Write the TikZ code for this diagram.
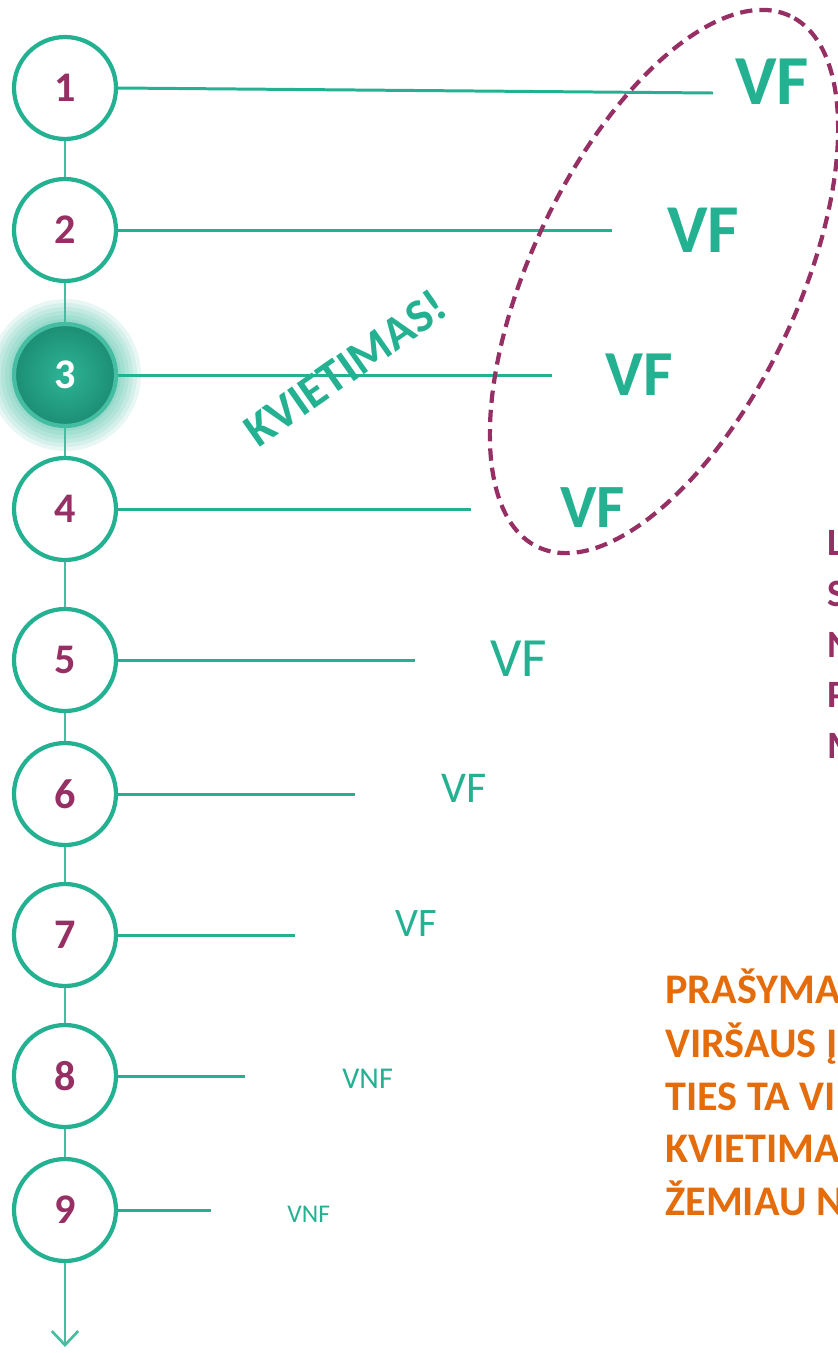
\documentclass[tikz,border=0pt]{standalone}
\usepackage{fontspec}
\setmainfont{Carlito}
\usepackage{xcolor}
\usetikzlibrary{arrows.meta}

\definecolor{vfteal}{RGB}{35,177,145}
\definecolor{vfpurple}{RGB}{150,48,100}
\definecolor{vforange}{RGB}{228,108,10}

\begin{document}
\begin{tikzpicture}[x=0.02cm, y=-0.02cm,
	stepcirc/.style={circle, draw=vfteal, line width=2.4pt, fill=white, minimum size=2.04cm, inner sep=0pt, text=vfpurple, font=\bfseries\fontsize{24}{28}\selectfont},
	stepnow/.style={draw=vfteal!85!white, shade, inner color=vfteal!95!white, outer color=vfteal!80!black, text=white},
	glowring/.style={fill=vfteal, opacity=0.1},
	hline/.style={vfteal, line width=1.7pt},
	vline/.style={vfteal!85, line width=1.5pt},
	vfbold/.style={anchor=base west, inner sep=0pt, text=vfteal, font=\bfseries\fontsize{#1}{#1}\selectfont},
	vfthin/.style={anchor=base west, inner sep=0pt, text=vfteal, font=\fontsize{#1}{#1}\selectfont},
	sidetxt/.style={anchor=base west, inner sep=0pt, text=vfpurple, font=\bfseries\fontsize{22}{26}\selectfont},
	notetxt/.style={anchor=base west, inner sep=0pt, text=vforange, font=\bfseries\fontsize{24}{28}\selectfont}]
	\useasboundingbox (0,0) rectangle (838,1353);

	\coordinate (glow) at (65,375);
	\fill[glowring] (glow) circle (1.52cm);
	\fill[glowring] (glow) circle (1.44cm);
	\fill[glowring] (glow) circle (1.36cm);
	\fill[glowring] (glow) circle (1.28cm);
	\fill[glowring] (glow) circle (1.2cm);
	\fill[glowring] (glow) circle (1.12cm);

	\node[stepcirc] (c1) at (65,88) {1};
	\node[stepcirc] (c2) at (65,230) {2};
	\node[stepcirc, stepnow] (c3) at (glow) {3};
	\node[stepcirc] (c4) at (65,509) {4};
	\node[stepcirc] (c5) at (65,660) {5};
	\node[stepcirc] (c6) at (65,794) {6};
	\node[stepcirc] (c7) at (65,935) {7};
	\node[stepcirc] (c8) at (65,1076) {8};
	\node[stepcirc] (c9) at (65,1210) {9};
	\coordinate (tail) at (65,1347);

	\draw[vline] (c1.south) -- (c2.north);
	\draw[vline] (c2.south) -- (c3.north);
	\draw[vline] (c3.south) -- (c4.north);
	\draw[vline] (c4.south) -- (c5.north);
	\draw[vline] (c5.south) -- (c6.north);
	\draw[vline] (c6.south) -- (c7.north);
	\draw[vline] (c7.south) -- (c8.north);
	\draw[vline] (c8.south) -- (c9.north);
	\draw[vline, -{Straight Barb[length=8pt, width=15pt]}] (c9.south) -- (tail);

	\coordinate (e1) at (713,93);
	\coordinate (e2) at (612,230);
	\coordinate (e3) at (552,375);
	\coordinate (e4) at (471,509);
	\coordinate (e5) at (415,660);
	\coordinate (e6) at (355,794);
	\coordinate (e7) at (295,935);
	\coordinate (e8) at (245,1076);
	\coordinate (e9) at (211,1210);
	\draw[hline] (c1.east) -- (e1);
	\draw[hline] (c2.east) -- (e2);
	\draw[hline] (c3.east) -- (e3);
	\draw[hline] (c4.east) -- (e4);
	\draw[hline] (c5.east) -- (e5);
	\draw[hline] (c6.east) -- (e6);
	\draw[hline] (c7.east) -- (e7);
	\draw[hline] (c8.east) -- (e8);
	\draw[hline] (c9.east) -- (e9);

	\node[vfbold=40] (vf1) at (735,104) {VF};
	\node[vfbold=39] (vf2) at (667,252) {VF};
	\node[vfbold=36.5] (vf3) at (605,395) {VF};
	\node[vfbold=35] (vf4) at (560,527) {VF};
	\node[vfthin=31.5] (vf5) at (490,676) {VF};
	\node[vfthin=25] (vf6) at (441,802) {VF};
	\node[vfthin=23] (vf7) at (395,936) {VF};
	\node[vfthin=17.2] (vf8) at (342,1088) {VNF};
	\node[vfthin=14.5] (vf9) at (287,1222) {VNF};

	\draw[vfpurple, line width=2.4pt, dash pattern=on 7pt off 4pt, rotate around={64.6:(664,281.5)}] (664,281.5) ellipse [x radius=5.88cm, y radius=2.66cm];

	\node[rotate=35, text=vfteal, font=\bfseries\fontsize{27}{32}\selectfont] (invite) at (345,368) {KVIETIMAS!};

	\node[sidetxt] (side1) at (827,555) {L};
	\node[sidetxt] (side2) at (827,606) {S};
	\node[sidetxt] (side3) at (827,657) {N};
	\node[sidetxt] (side4) at (827,707) {P};
	\node[sidetxt] (side5) at (827,758) {M};

	\node[notetxt] (note1) at (665,1003) {PRAŠYMA};
	\node[notetxt] (note2) at (665,1057) {VIRŠAUS Į};
	\node[notetxt] (note3) at (665,1110) {TIES TA VI};
	\node[notetxt] (note4) at (665,1162) {KVIETIMA};
	\node[notetxt] (note5) at (665,1215) {ŽEMIAU N};
\end{tikzpicture}
\end{document}
